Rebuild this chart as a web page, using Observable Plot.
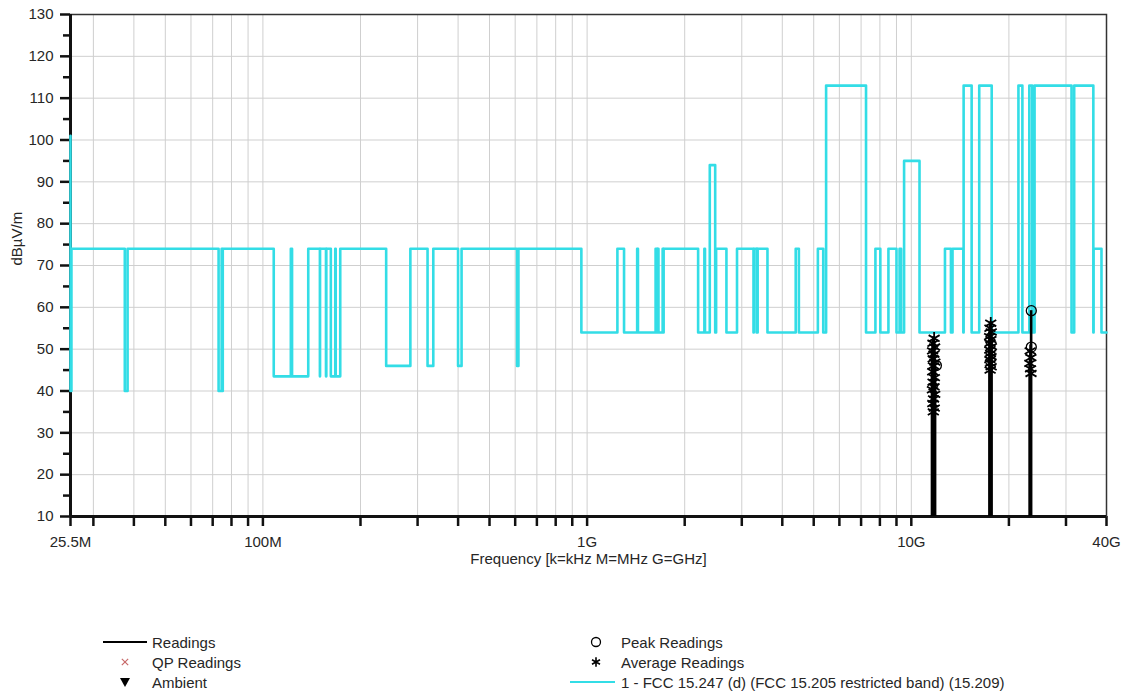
<!DOCTYPE html>
<html>
<head>
<meta charset="utf-8">
<script src="https://cdn.jsdelivr.net/npm/d3@7"></script>
<script src="https://cdn.jsdelivr.net/npm/@observablehq/plot@0.6"></script>
<style>
  body { margin: 0; background: #fff; font-family: "Liberation Sans", Arial, sans-serif; }
  #wrap { position: relative; width: 1127px; height: 696px; overflow: hidden; }
  #legend { position: absolute; left: 0; top: 600px; }
</style>
</head>
<body>
<div id="wrap"><div id="chart"></div><svg id="legend" width="1127" height="96"></svg></div>
<script>
// ---- Limit line: FCC 15.247(d) / 15.205 restricted bands / 15.209 (segment start in MHz, level dBµV/m)
const limitStartMHz = [25.5, 25.5, 25.67, 37.5, 38.25, 73, 74.6, 74.8, 75.2, 108, 121.94, 123, 138,
  149.9, 150.05, 156.52475, 156.52525, 156.7, 156.9, 162.0125, 167.17, 167.72, 173.2, 240, 285, 322,
  335.4, 399.9, 410, 608, 614, 960, 1240, 1300, 1427, 1435, 1626.5, 1645.5, 1646.5, 1660, 1710, 1718.8,
  1722.2, 2200, 2300, 2310, 2390, 2483.5, 2500, 2690, 2900, 3260, 3267, 3332, 3339, 3345.8, 3358, 3600,
  4400, 4500, 5150, 5350, 5460, 7250, 7750, 8025, 8500, 9000, 9200, 9300, 9500, 10600, 12700, 13250,
  13400, 14470, 14500, 15350, 16200, 17700, 21400, 22010, 23120, 23600, 24000, 31200, 31800, 36430,
  36500, 38600, 40000];
const limitLevel = [101, 40, 74, 40, 74, 40, 74, 40, 74, 43.5, 74, 43.5, 74,
  43.5, 74, 43.5, 74, 43.5, 74, 43.5, 74, 43.5, 74, 46, 74, 46,
  74, 46, 74, 46, 74, 54, 74, 54, 74, 54, 74, 54, 74, 54, 74, 54,
  74, 54, 74, 54, 94, 54, 74, 54, 74, 54, 74, 54, 74, 54, 74, 54,
  74, 54, 74, 54, 113, 54, 74, 54, 74, 54, 74, 54, 95, 54, 74, 54,
  74, 54, 113, 54, 113, 54, 113, 54, 113, 54, 113, 54, 113, 54,
  74, 54, 54];

// ---- Readings (GHz, dBµV/m)
const readingGHz   = [11.58, 11.64, 11.70, 11.76, 11.84, 17.42, 17.48, 17.55, 17.62, 17.68, 23.18, 23.25, 23.32, 23.42];
const readingLevel = [50.0, 52.0, 53.0, 50.5, 46.0, 54.0, 55.5, 56.5, 56.0, 53.0, 47.0, 48.5, 50.0, 59.2];

// ---- Average readings (GHz, dBµV/m)
const avgGHz = [11.76, 11.66, 11.80, 11.63, 11.74, 11.68, 11.82, 11.70, 11.64, 11.78, 11.67, 11.75, 11.62, 11.81, 11.71, 11.65, 11.77, 11.69,
  17.58, 17.48, 17.64, 17.44, 17.60, 17.50, 17.66, 17.46, 17.56, 17.62, 17.47, 17.54, 17.63, 17.50,
  23.26, 23.38, 23.20, 23.32, 23.40];
const avgLevel = [52.6, 51.4, 50.5, 49.6, 48.8, 47.7, 46.9, 46.0, 44.6, 43.2, 42.1, 41.0, 40.3, 39.2, 38.1, 37.0, 35.9, 35.0,
  56.2, 55.0, 54.1, 53.0, 52.3, 51.4, 50.6, 49.8, 49.0, 48.2, 47.5, 46.6, 45.8, 45.0,
  49.6, 48.0, 46.6, 45.3, 44.2];

// ---- Peak readings (GHz, dBµV/m)
const peakGHz   = [11.95, 23.45, 23.45];
const peakLevel = [46.1, 59.2, 50.5];

// ---- Axes
const xMajorTicks  = [25.5e6, 1e8, 1e9, 1e10, 4e10];
const xMajorLabels = ["25.5M", "100M", "1G", "10G", "40G"];
const xMinorTicks  = [3e7, 4e7, 5e7, 6e7, 7e7, 8e7, 9e7, 2e8, 3e8, 4e8, 5e8, 6e8, 7e8, 8e8, 9e8,
  2e9, 3e9, 4e9, 5e9, 6e9, 7e9, 8e9, 9e9, 2e10, 3e10];
const xGridTicks   = [...xMinorTicks, 1e8, 1e9, 1e10];
const yTicks       = [10, 20, 30, 40, 50, 60, 70, 80, 90, 100, 110, 120, 130];
const yMinorTicks  = [15, 25, 35, 45, 55, 65, 75, 85, 95, 105, 115, 125];
const yGridTicks   = [20, 30, 40, 50, 60, 70, 80, 90, 100, 110, 120];

const xTitle = "Frequency [k=kHz M=MHz G=GHz]";
const yTitle = "dBµV/m";

const legendLeft  = [["line", "#000", "Readings"], ["cross", "#c86a6a", "QP Readings"], ["tri", "#000", "Ambient"]];
const legendRight = [["circle", "#000", "Peak Readings"], ["star", "#000", "Average Readings"],
  ["line", "#33dde6", "1 - FCC 15.247 (d) (FCC 15.205 restricted band) (15.209)"]];

// ---- build tables
const limitPts = limitStartMHz.map((f, i) => ({f: f * 1e6, v: limitLevel[i]}));
const readings = readingGHz.map((f, i) => ({f: f * 1e9, v: readingLevel[i]}));
const avg = avgGHz.map((f, i) => ({f: f * 1e9, v: avgLevel[i]}));
const peaks = peakGHz.map((f, i) => ({f: f * 1e9, v: peakLevel[i]}));

const CYAN = "#33dde6";
const INK = "#262626";

const chart = Plot.plot({
  width: 1127, height: 600,
  marginLeft: 70, marginRight: 21, marginTop: 14, marginBottom: 84,
  style: {fontFamily: "'Liberation Sans', Arial, sans-serif", fontSize: "15px", color: INK, background: "#fff"},
  x: {type: "log", domain: [25.5e6, 40e9]},
  y: {domain: [10, 130]},
  marks: [
    Plot.gridX(xGridTicks, {stroke: "#cfcfcf", strokeOpacity: 1, strokeWidth: 1}),
    Plot.gridY(yGridTicks, {stroke: "#cfcfcf", strokeOpacity: 1, strokeWidth: 1}),
    Plot.axisX(xMinorTicks, {tickSize: 10, tickFormat: () => "", stroke: "#111", strokeWidth: 2.5, label: null}),
    Plot.axisX(xMajorTicks, {tickSize: 10, tickPadding: 10, tickFormat: d => xMajorLabels[xMajorTicks.indexOf(d)], stroke: "#111", strokeWidth: 2.5, label: null}),
    Plot.axisY(yTicks, {tickSize: 10, tickPadding: 7, stroke: "#111", strokeWidth: 2.5, label: null}),
    Plot.axisY(yMinorTicks, {tickSize: 7, tickFormat: () => "", stroke: "#111", strokeWidth: 2.5, label: null}),
    Plot.frame({stroke: "#333", strokeWidth: 1.5}),
    Plot.ruleX([25.5e6], {stroke: "#111", strokeWidth: 3}),
    Plot.ruleY([10], {stroke: "#111", strokeWidth: 3}),
    Plot.line(limitPts, {x: "f", y: "v", curve: "step-after", stroke: CYAN, strokeWidth: 2.6}),
    Plot.ruleX(readings, {x: "f", y1: 10, y2: "v", stroke: "#000", strokeWidth: 2.6}),
    Plot.dot(avg, {x: "f", y: "v", symbol: "asterisk", r: 6, stroke: "#000", strokeWidth: 1.8}),
    Plot.dot(peaks, {x: "f", y: "v", symbol: "circle", r: 5, stroke: "#000", fill: "none", strokeWidth: 1.3}),
    Plot.text([xTitle], {frameAnchor: "bottom", dy: 47, text: d => d, fill: INK, fontSize: 15}),
    Plot.text([yTitle], {frameAnchor: "left", dx: -53, rotate: -90, text: d => d, fill: INK, fontSize: 15})
  ]
});
document.getElementById("chart").appendChild(chart);

// ---- legend (below the chart)
const lg = d3.select("#legend");
function legendItem(col, row, item) {
  const [kind, color, label] = item;
  const y = 42 + row * 20;
  const x0 = col === 0 ? 103 : 570, x1 = col === 0 ? 147 : 615;
  const cx = col === 0 ? 125 : 596;
  const tx = col === 0 ? 152 : 621;
  if (kind === "line") lg.append("line").attr("x1", x0).attr("x2", x1).attr("y1", y).attr("y2", y).attr("stroke", color).attr("stroke-width", 2.2);
  else if (kind === "cross") lg.append("path").attr("d", d3.symbol(d3.symbolTimes, 28)()).attr("transform", `translate(${cx},${y})`).attr("stroke", color).attr("stroke-width", 1.2).attr("fill", "none");
  else if (kind === "tri") lg.append("path").attr("d", `M${cx-5},${y-4}L${cx+5},${y-4}L${cx},${y+5}Z`).attr("fill", color);
  else if (kind === "circle") lg.append("circle").attr("cx", cx).attr("cy", y).attr("r", 4.5).attr("stroke", color).attr("stroke-width", 1.3).attr("fill", "none");
  else if (kind === "star") lg.append("path").attr("d", d3.symbol(d3.symbolAsterisk, 60)()).attr("transform", `translate(${cx},${y})`).attr("stroke", color).attr("stroke-width", 1.6).attr("fill", "none");
  lg.append("text").attr("x", tx).attr("y", y).attr("dominant-baseline", "central").attr("fill", INK)
    .attr("font-size", 15).attr("font-family", "'Liberation Sans', Arial, sans-serif").text(label);
}
legendLeft.forEach((it, i) => legendItem(0, i, it));
legendRight.forEach((it, i) => legendItem(1, i, it));
</script>
</body>
</html>
